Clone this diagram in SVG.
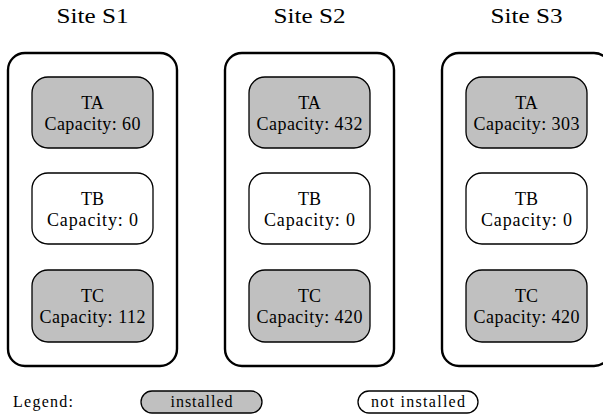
<svg xmlns="http://www.w3.org/2000/svg" width="603" height="417" viewBox="0 0 603 417">
  <style>
    text { font-family: "Liberation Serif", "DejaVu Serif", serif; fill: #000; text-anchor: middle; }
    .title { font-size: 22px; }
    .lbl { font-size: 18px; }
    .leg { font-size: 16px; }
    .site { fill: #fff; stroke: #000; stroke-width: 2.4; }
    .on { fill: #c0c0c0; stroke: #000; stroke-width: 1.3; }
    .off { fill: #fff; stroke: #000; stroke-width: 1.3; }
  </style>
  <rect width="603" height="417" fill="#fff"/>

  <!-- Site S1 -->
  <g id="site-s1">
    <text class="title" x="92.5" y="23" textLength="72" lengthAdjust="spacingAndGlyphs">Site S1</text>
    <rect class="site" x="8" y="53" width="169" height="313" rx="17"/>
    <g id="s1-ta">
      <rect class="on" x="32" y="77" width="121" height="71" rx="16"/>
      <text class="lbl" x="92.5" y="109">TA</text>
      <text class="lbl" x="92.5" y="130" textLength="96" lengthAdjust="spacing">Capacity: 60</text>
    </g>
    <g id="s1-tb">
      <rect class="off" x="32" y="173" width="121" height="71" rx="16"/>
      <text class="lbl" x="92.5" y="205">TB</text>
      <text class="lbl" x="92.5" y="226" textLength="91" lengthAdjust="spacing">Capacity: 0</text>
    </g>
    <g id="s1-tc">
      <rect class="on" x="32" y="270" width="121" height="72" rx="16"/>
      <text class="lbl" x="92.5" y="302">TC</text>
      <text class="lbl" x="92.5" y="323" textLength="106" lengthAdjust="spacing">Capacity: 112</text>
    </g>
  </g>

  <!-- Site S2 -->
  <g id="site-s2">
    <text class="title" x="309.5" y="23" textLength="72" lengthAdjust="spacingAndGlyphs">Site S2</text>
    <rect class="site" x="225" y="53" width="169" height="313" rx="17"/>
    <g id="s2-ta">
      <rect class="on" x="249" y="77" width="121" height="71" rx="16"/>
      <text class="lbl" x="309.5" y="109">TA</text>
      <text class="lbl" x="309.5" y="130" textLength="106" lengthAdjust="spacing">Capacity: 432</text>
    </g>
    <g id="s2-tb">
      <rect class="off" x="249" y="173" width="121" height="71" rx="16"/>
      <text class="lbl" x="309.5" y="205">TB</text>
      <text class="lbl" x="309.5" y="226" textLength="91" lengthAdjust="spacing">Capacity: 0</text>
    </g>
    <g id="s2-tc">
      <rect class="on" x="249" y="270" width="121" height="72" rx="16"/>
      <text class="lbl" x="309.5" y="302">TC</text>
      <text class="lbl" x="309.5" y="323" textLength="106" lengthAdjust="spacing">Capacity: 420</text>
    </g>
  </g>

  <!-- Site S3 -->
  <g id="site-s3">
    <text class="title" x="526.5" y="23" textLength="72" lengthAdjust="spacingAndGlyphs">Site S3</text>
    <rect class="site" x="442" y="53" width="169" height="313" rx="17"/>
    <g id="s3-ta">
      <rect class="on" x="466" y="77" width="121" height="71" rx="16"/>
      <text class="lbl" x="526.5" y="109">TA</text>
      <text class="lbl" x="526.5" y="130" textLength="106" lengthAdjust="spacing">Capacity: 303</text>
    </g>
    <g id="s3-tb">
      <rect class="off" x="466" y="173" width="121" height="71" rx="16"/>
      <text class="lbl" x="526.5" y="205">TB</text>
      <text class="lbl" x="526.5" y="226" textLength="91" lengthAdjust="spacing">Capacity: 0</text>
    </g>
    <g id="s3-tc">
      <rect class="on" x="466" y="270" width="121" height="72" rx="16"/>
      <text class="lbl" x="526.5" y="302">TC</text>
      <text class="lbl" x="526.5" y="323" textLength="106" lengthAdjust="spacing">Capacity: 420</text>
    </g>
  </g>

  <!-- connectors: none between nodes -->
  <g id="connectors"></g>

  <!-- Legend -->
  <g id="legend">
    <text class="leg" x="13" y="407" style="text-anchor:start" textLength="60" lengthAdjust="spacing">Legend:</text>
    <g id="legend-installed">
      <rect class="on" x="141" y="391" width="121" height="22" rx="11"/>
      <text class="leg" x="201.5" y="407" textLength="62" lengthAdjust="spacing">installed</text>
    </g>
    <g id="legend-not-installed">
      <rect class="off" x="358" y="391" width="120" height="22" rx="11"/>
      <text class="leg" x="418" y="407" textLength="94" lengthAdjust="spacing">not installed</text>
    </g>
  </g>
</svg>
